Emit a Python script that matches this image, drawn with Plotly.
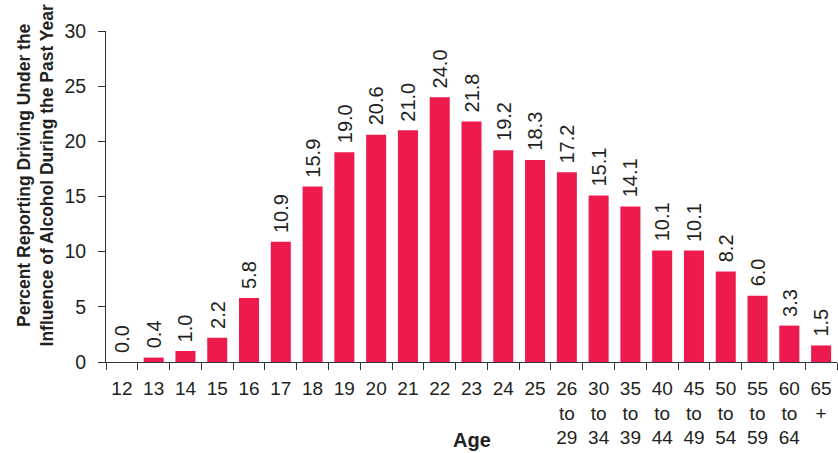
import plotly.graph_objects as go

ages = ["12", "13", "14", "15", "16", "17", "18", "19", "20", "21", "22", "23",
        "24", "25", "26<br>to<br>29", "30<br>to<br>34", "35<br>to<br>39",
        "40<br>to<br>44", "45<br>to<br>49", "50<br>to<br>54", "55<br>to<br>59",
        "60<br>to<br>64", "65<br>+"]
percent = [0.0, 0.4, 1.0, 2.2, 5.8, 10.9, 15.9, 19.0, 20.6, 21.0, 24.0, 21.8,
           19.2, 18.3, 17.2, 15.1, 14.1, 10.1, 10.1, 8.2, 6.0, 3.3, 1.5]
y_ticks = [0, 5, 10, 15, 20, 25, 30]

FONT = "Liberation Sans, Arial, sans-serif"
TXT = "#231f20"
BAR = "#ed1a4d"

fig = go.Figure(go.Bar(x=ages, y=percent, marker_color=BAR, marker_line_width=0,
                       hoverinfo="skip"))

ann = []
for i, v in enumerate(percent):
    ann.append(dict(x=i, y=v, xref="x", yref="y", text=f"{v:.1f}", showarrow=False,
                    textangle=-90, yanchor="bottom", xanchor="center", yshift=7,
                    font=dict(family=FONT, size=20, color=TXT)))
ann.append(dict(xref="paper", yref="paper", x=-0.0951, y=0.565, xanchor="center",
                yanchor="middle", textangle=-90, showarrow=False,
                text="<b>Percent Reporting Driving Under the<br>Influence of Alcohol During the Past Year</b>",
                font=dict(family=FONT, size=17.5, color=TXT)))
ann.append(dict(xref="paper", yref="paper", x=0.5, y=-0.2356, xanchor="center",
                yanchor="middle", showarrow=False, text="<b>Age</b>",
                font=dict(family=FONT, size=20, color=TXT)))

fig.update_layout(
    width=838, height=453,
    margin=dict(l=106, r=1, t=31, b=91),
    paper_bgcolor="white", plot_bgcolor="white",
    bargap=0.37, showlegend=False,
    annotations=ann,
    font=dict(family=FONT, size=19, color=TXT),
)
fig.update_xaxes(type="category", showline=True, linecolor="#333", linewidth=1,
                 ticks="outside", tickson="boundaries", ticklen=7, tickcolor="#333",
                 showgrid=False, tickangle=0, automargin=False, ticklabelstandoff=9,
                 tickfont=dict(family=FONT, size=19, color=TXT))
fig.update_yaxes(range=[0, 30], tickvals=y_ticks, showline=True, linecolor="#333",
                 linewidth=1, ticks="outside", ticklen=7, tickcolor="#333",
                 showgrid=False, zeroline=False, ticklabelstandoff=8, automargin=False,
                 tickfont=dict(family=FONT, size=19.5, color=TXT))

fig.write_html("out.html", config={"displayModeBar": False},
               post_script="document.body.style.margin='0';")
